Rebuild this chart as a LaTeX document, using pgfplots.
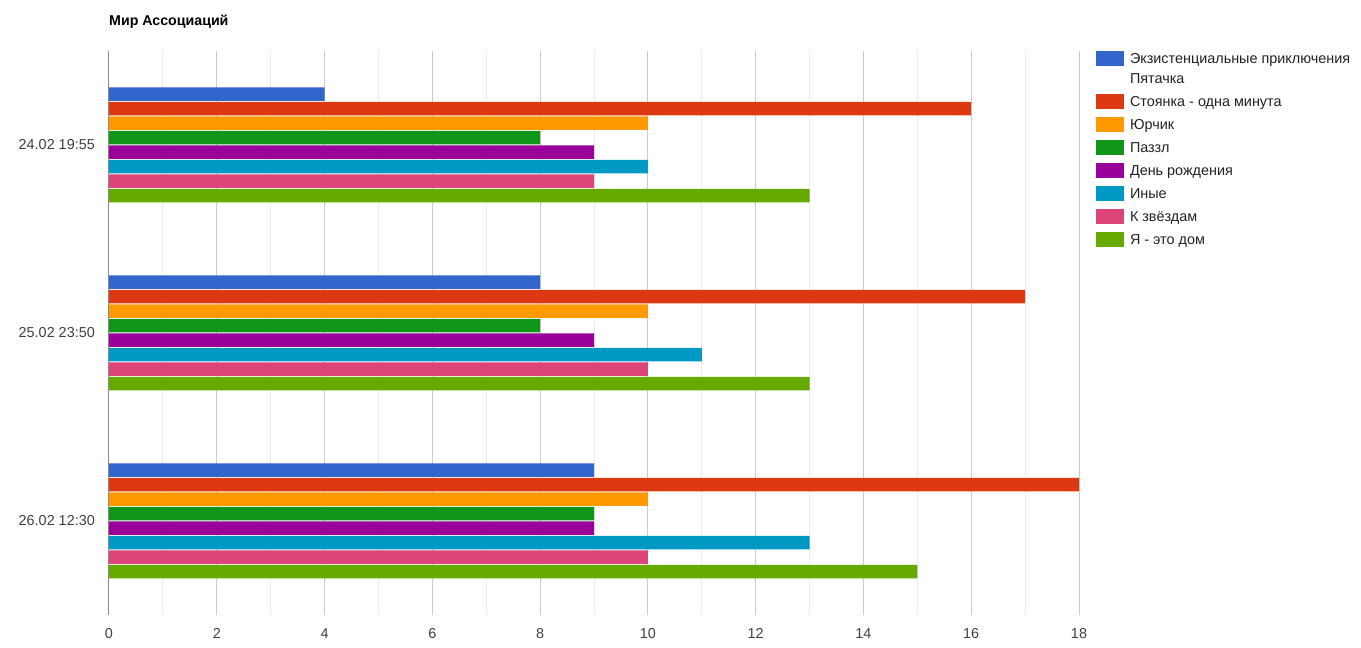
\documentclass[border=0pt]{standalone}
\usepackage{fontspec}
\setmainfont{Liberation Sans}
\usepackage{pgfplots}
\pgfplotsset{compat=1.18}
\definecolor{c1}{HTML}{3366CC}
\definecolor{c2}{HTML}{DC3912}
\definecolor{c3}{HTML}{FF9900}
\definecolor{c4}{HTML}{109618}
\definecolor{c5}{HTML}{990099}
\definecolor{c6}{HTML}{0099C6}
\definecolor{c7}{HTML}{DD4477}
\definecolor{c8}{HTML}{66AA00}
\definecolor{txt}{HTML}{222222}
\newcommand{\fs}{\fontsize{14.4}{20}\selectfont}
\begin{document}
\begin{tikzpicture}[x=1pt,y=1pt]
\path[use as bounding box] (0,0) rectangle (1361,648);
\begin{axis}[
  at={(109pt,33pt)}, anchor=south west,
  scale only axis, width=970pt, height=564pt,
  xmin=0, xmax=18, ymin=-0.5, ymax=2.5,
  xbar, bar width=13.5pt,
  xtick={0,2,...,18}, minor xtick={1,3,...,17},
  xmajorgrids, xminorgrids,
  major grid style={draw=black!20, line width=1pt},
  minor grid style={draw=black!8, line width=1pt},
  ytick={0,1,2}, yticklabels={26.02 12:30,25.02 23:50,24.02 19:55},
  major tick length=0pt, minor tick length=0pt,
  axis line style={draw=none},
  font=\fs,
  tick label style={text=black!75, font=\fs},
  /pgf/number format/assume math mode=true,
  xticklabel style={inner sep=0pt, yshift=-13pt},
  yticklabel style={inner sep=0pt, xshift=-14pt},
  title={Мир Ассоциаций},
  title style={at={(0,1)}, anchor=base west, inner sep=0pt, yshift=19pt, font=\fontsize{14.2}{20}\selectfont\bfseries},
  legend image code/.code={\path[#1] (0pt,-2.7pt) rectangle (28pt,12pt);},
  legend style={at={(1.01753,1.0035)}, anchor=north west, draw=none, fill=none,
     inner sep=0pt, outer sep=0pt, row sep=3pt, column sep=6pt,
     cells={anchor=base west},
     nodes={inner sep=0pt, text=txt, font=\fs, text height=14pt, text depth=6pt}},
  clip=false,
]
\pgfplotsset{every axis plot/.append style={draw=none}}
\addplot[fill=c1, bar shift=50.75pt] coordinates {(4,2) (8,1) (9,0)};
\addlegendentry{Экзистенциальные приключения}
\addlegendimage{empty legend}
\addlegendentry[text height=11pt]{Пятачка}
\addplot[fill=c2, bar shift=36.25pt] coordinates {(16,2) (17,1) (18,0)};
\addlegendentry{Стоянка - одна минута}
\addplot[fill=c3, bar shift=21.75pt] coordinates {(10,2) (10,1) (10,0)};
\addlegendentry{Юрчик}
\addplot[fill=c4, bar shift=7.25pt] coordinates {(8,2) (8,1) (9,0)};
\addlegendentry{Паззл}
\addplot[fill=c5, bar shift=-7.25pt] coordinates {(9,2) (9,1) (9,0)};
\addlegendentry{День рождения}
\addplot[fill=c6, bar shift=-21.75pt] coordinates {(10,2) (11,1) (13,0)};
\addlegendentry{Иные}
\addplot[fill=c7, bar shift=-36.25pt] coordinates {(9,2) (10,1) (10,0)};
\addlegendentry{К звёздам}
\addplot[fill=c8, bar shift=-50.75pt] coordinates {(13,2) (13,1) (15,0)};
\addlegendentry{Я - это дом}
\draw[black!45, line width=1pt] (axis cs:0,-0.5) -- (axis cs:0,2.5);
\end{axis}
\end{tikzpicture}
\end{document}
